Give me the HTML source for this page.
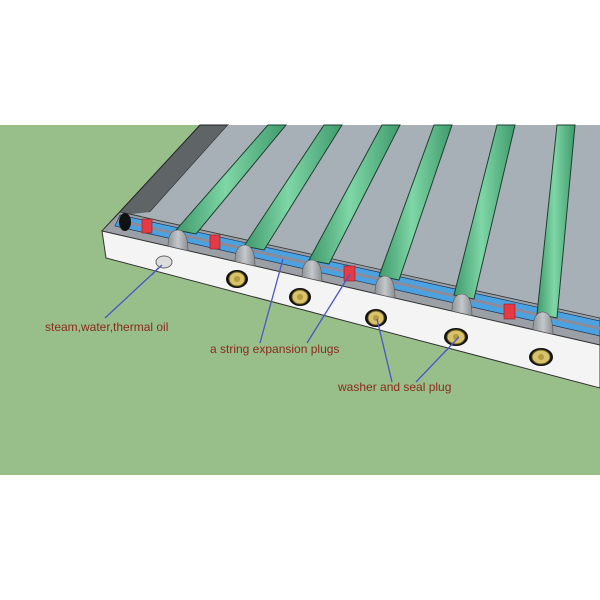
<!DOCTYPE html>
<html><head><style>body{margin:0;background:#fff}svg{display:block}</style></head>
<body>
<svg width="600" height="600" viewBox="0 0 600 600" xmlns="http://www.w3.org/2000/svg">
<defs>
<linearGradient id="tg" x1="0" y1="0" x2="1" y2="0">
<stop offset="0" stop-color="#3f9a6c"/><stop offset="0.45" stop-color="#7fd6a6"/><stop offset="1" stop-color="#3f9a6c"/>
</linearGradient>
<linearGradient id="dg" x1="0" y1="0" x2="1" y2="0">
<stop offset="0" stop-color="#8f9498"/><stop offset="0.5" stop-color="#c4c8cb"/><stop offset="1" stop-color="#8a8f93"/>
</linearGradient>
</defs>
<rect x="0" y="125" width="600" height="350" fill="#98bf8a"/>
<!-- dark wall -->
<polygon points="200,125 228,125 150,212 102,231" fill="#5f6466" stroke="#222" stroke-width="1"/>
<!-- plate -->
<polygon points="228,125 600,125 600,318 132,214 150,212" fill="#a7b0b6"/>
<!-- channel ledge -->
<polygon points="120,212 600,318 600,345 102,231" fill="#9aa0a6" stroke="#333" stroke-width="0.8"/>
<!-- blue pipes -->
<polygon points="120,215 600,321 600,336 115,226" fill="#4aa3e0" stroke="#235" stroke-width="0.7"/>
<line x1="118" y1="220.5" x2="600" y2="328.5" stroke="#8d8a9a" stroke-width="3"/>
<ellipse cx="125" cy="222" rx="6" ry="9" fill="#111"/>
<!-- tubes -->
<g stroke="#1d4030" stroke-width="1" fill="url(#tg)">
<polygon points="268,125 286,125 196,234 176,230"/>
<polygon points="324,125 342,125 264,250 244,246"/>
<polygon points="382,125 400,125 329,264 309,260"/>
<polygon points="434,125 452,125 399,280 379,276"/>
<polygon points="497,125 515,125 474,299 454,295"/>
<polygon points="557,125 575,125 557,318 537,314"/>
</g>
<!-- red plugs -->
<g fill="#e53a45" stroke="#822" stroke-width="0.6">
<rect x="142" y="219" width="10" height="14"/>
<rect x="210" y="235" width="10" height="14"/>
<rect x="344" y="266" width="11" height="15"/>
<rect x="504" y="304" width="11" height="15"/>
</g>
<!-- white face -->
<polygon points="102,231 600,345 600,388 106,258" fill="#f4f4f4" stroke="#333" stroke-width="1"/>
<!-- domes -->
<g fill="url(#dg)" stroke="#555" stroke-width="0.6">
<path d="M168,246.1 Q168,230 178,230 Q188,230 188,250.7 Z"/>
<path d="M235,261.4 Q235,245 245,245 Q255,245 255,266 Z"/>
<path d="M302,276.8 Q302,260 312,260 Q322,260 322,281.3 Z"/>
<path d="M375,293.5 Q375,276 385,276 Q395,276 395,298.1 Z"/>
<path d="M452,311.1 Q452,294 462,294 Q472,294 472,315.7 Z"/>
<path d="M533,329.7 Q533,312 543,312 Q553,312 553,334.3 Z"/>
</g>
<!-- hole -->
<ellipse cx="164" cy="262" rx="8" ry="6" fill="#ddd" stroke="#666" stroke-width="1"/>
<!-- bolts -->
<g>
<g transform="translate(237,279)"><ellipse rx="11" ry="9" fill="#111"/><ellipse rx="8" ry="7" fill="#d8c26a" stroke="#6a5a20"/><circle r="3" fill="#b49a40"/></g>
<g transform="translate(300,297)"><ellipse rx="11" ry="9" fill="#111"/><ellipse rx="8" ry="7" fill="#d8c26a" stroke="#6a5a20"/><circle r="3" fill="#b49a40"/></g>
<g transform="translate(376,318)"><ellipse rx="11" ry="9" fill="#111"/><ellipse rx="8" ry="7" fill="#d8c26a" stroke="#6a5a20"/><circle r="3" fill="#b49a40"/></g>
<g transform="translate(456,337)"><ellipse rx="12" ry="9" fill="#111"/><ellipse rx="9" ry="7" fill="#d8c26a" stroke="#6a5a20"/><circle r="3" fill="#b49a40"/></g>
<g transform="translate(541,357)"><ellipse rx="12" ry="9" fill="#111"/><ellipse rx="9" ry="7" fill="#d8c26a" stroke="#6a5a20"/><circle r="3" fill="#b49a40"/></g>
</g>
<!-- leaders -->
<g stroke="#4b55c8" stroke-width="1.3" fill="none">
<line x1="162" y1="265" x2="105" y2="318"/>
<line x1="158" y1="268" x2="152" y2="275"/>
<line x1="283" y1="259" x2="260" y2="343"/>
<line x1="350" y1="274" x2="307" y2="343"/>
<line x1="377" y1="319" x2="392" y2="382"/>
<line x1="459" y1="337" x2="416" y2="382"/>
</g>
<g font-family="Liberation Sans, sans-serif" font-size="12" fill="#8a2b1c">
<text x="45" y="331">steam,water,thermal oil</text>
<text x="210" y="353">a string expansion plugs</text>
<text x="338" y="391">washer and seal plug</text>
</g>
</svg>
</body></html>
